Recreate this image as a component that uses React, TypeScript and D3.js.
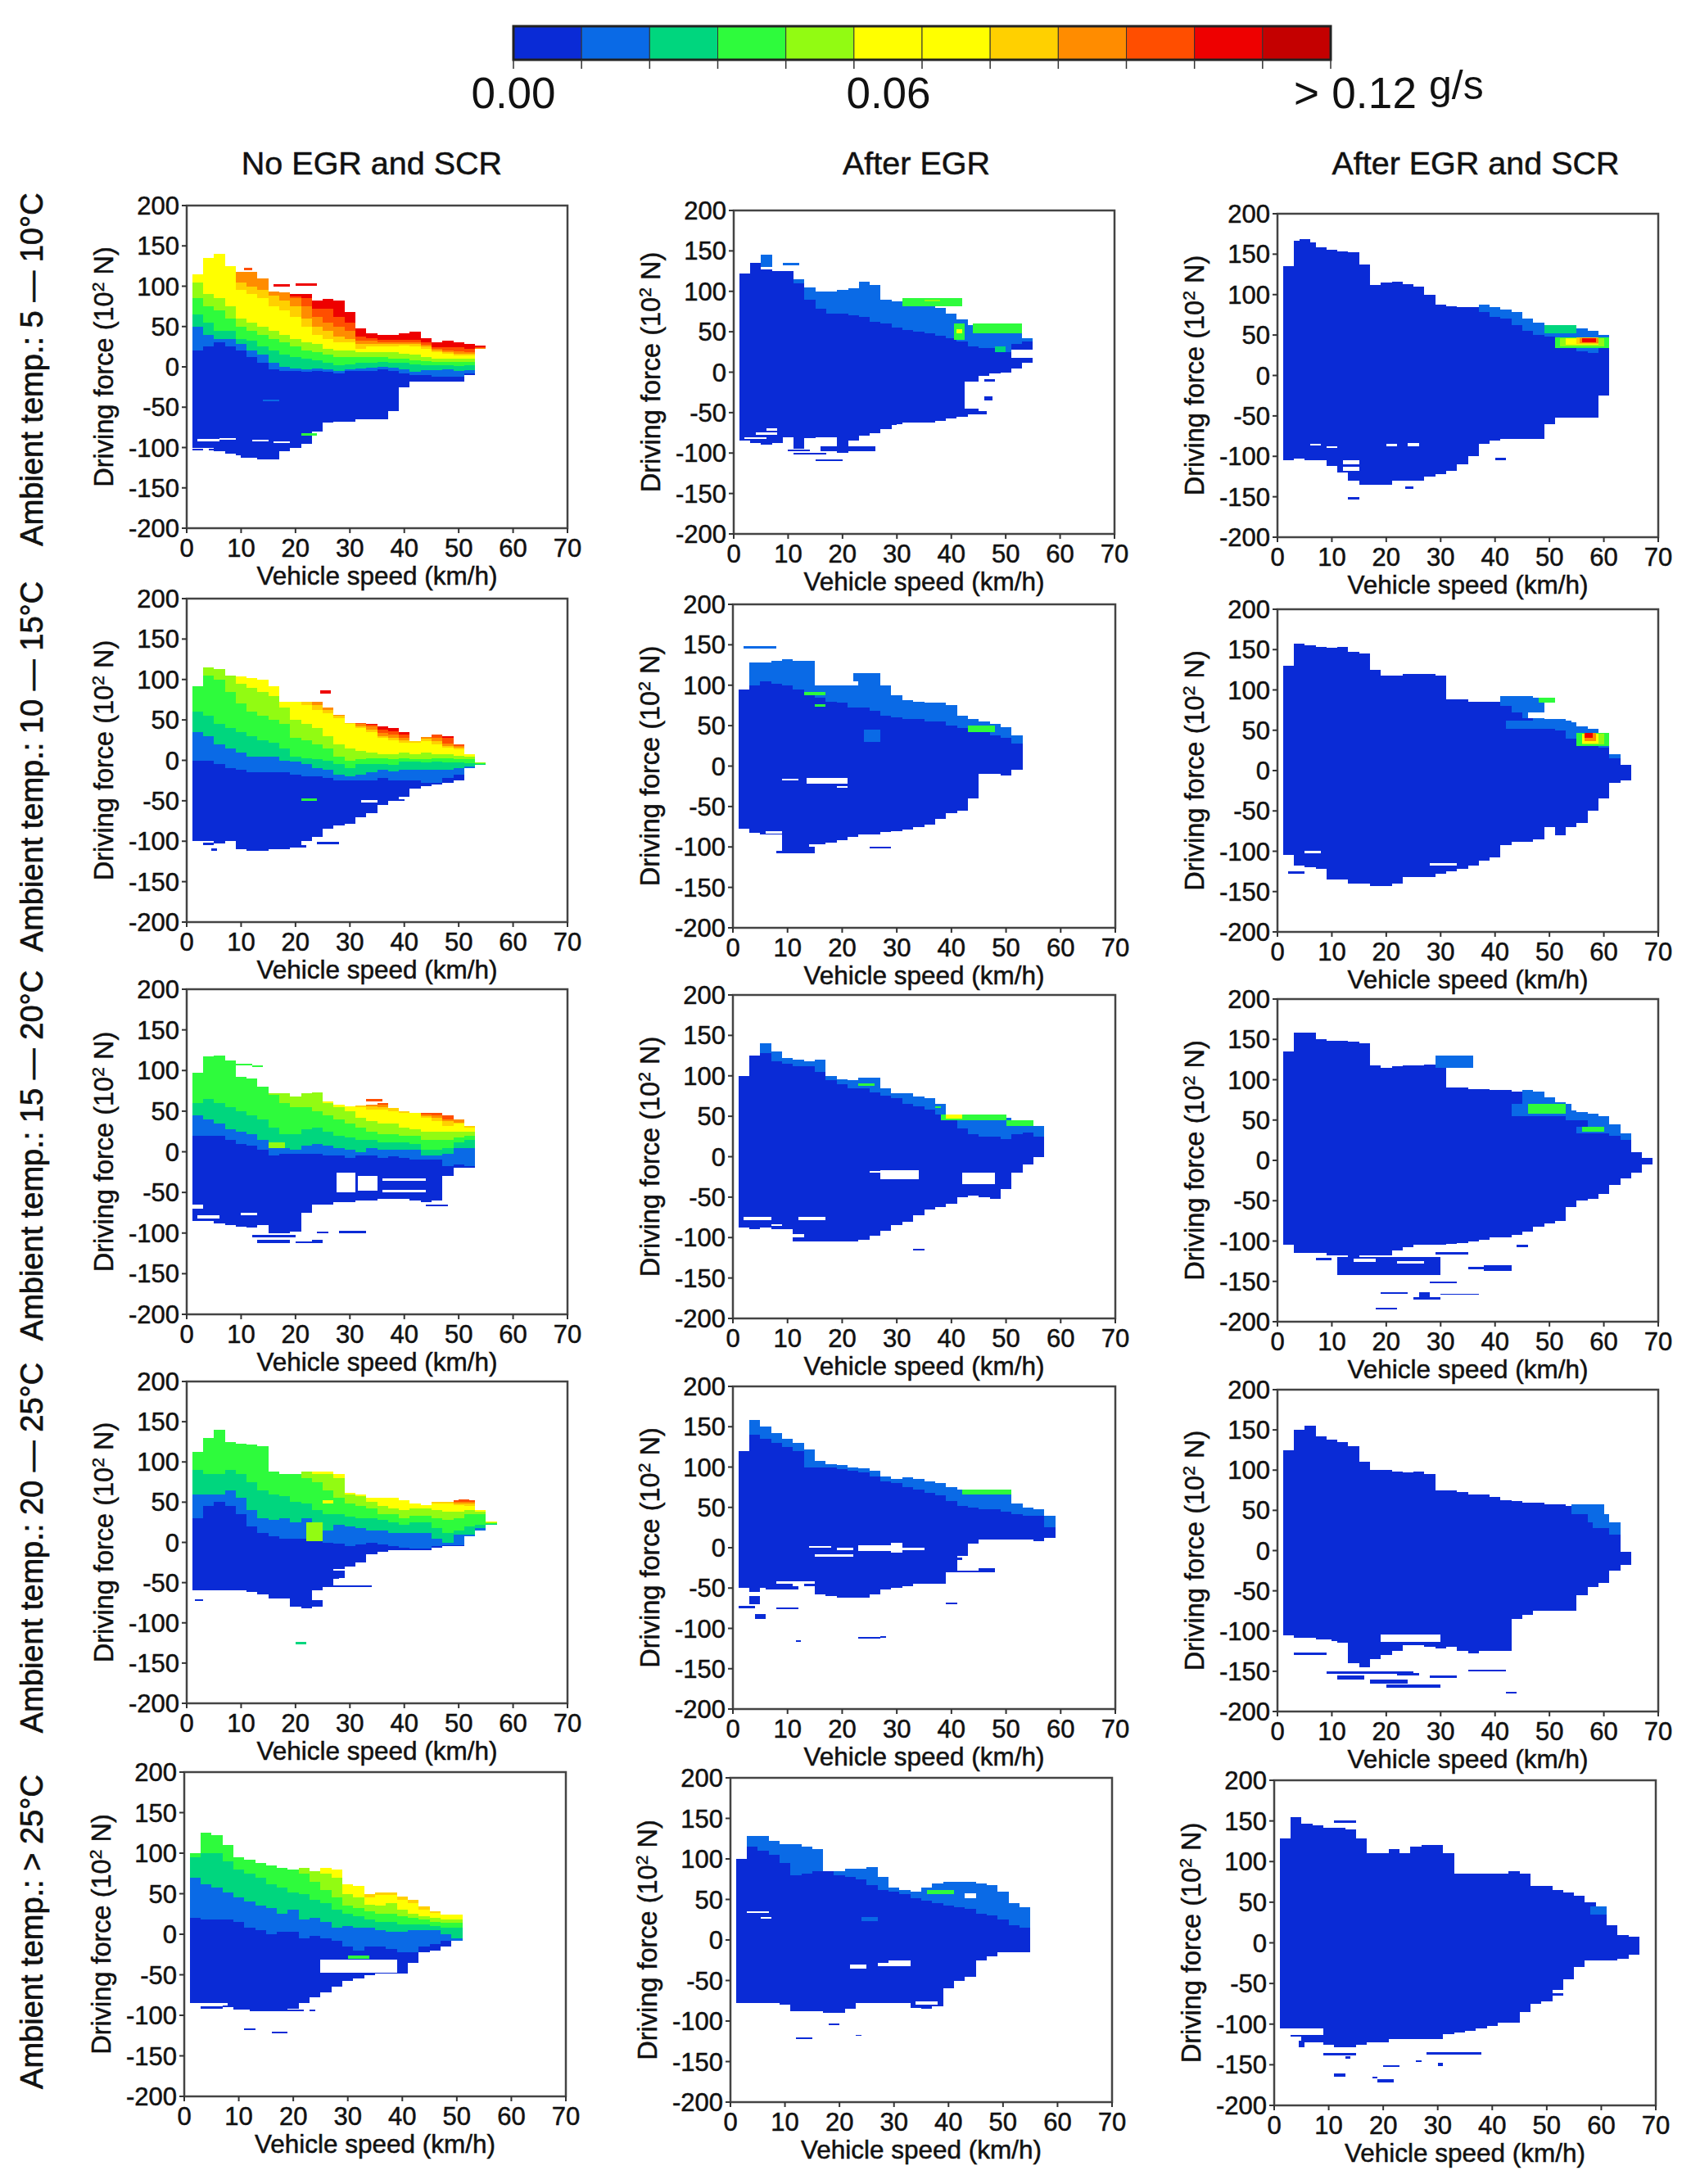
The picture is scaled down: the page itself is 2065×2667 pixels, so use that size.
import React from "react";
import * as d3 from "d3";

const FONT = "'Liberation Sans', Arial, sans-serif";
const legendColors = ["#0a2bd6","#0a6ae6","#00d67e","#2efb3c","#92fb12","#ffff00","#ffff00","#ffd000","#ff8c00","#ff4e00","#ee0000","#c40000"];
const levelColors = ["#0a2bd6","#0a6ae6","#00d67e","#2efb3c","#92fb12","#ffff00","#ffd000","#ff8c00","#ff4e00","#ee0000","#c40000"];
const speedTicks = [0,10,20,30,40,50,60,70];
const forceTicks = [200,150,100,50,0,-50,-100,-150,-200];
const columnTitles = ["No EGR and SCR","After EGR","After EGR and SCR"];
const rowTitles = ["Ambient temp.: 5 \u2014 10\u00b0C","Ambient temp.: 10 \u2014 15\u00b0C","Ambient temp.: 15 \u2014 20\u00b0C","Ambient temp.: 20 \u2014 25\u00b0C","Ambient temp.: > 25\u00b0C"];
const speedBinWidth = 2;
const firstSpeedBin = 1;

// Each entry is one speed bin: [lowest force, top of level 0, top of level 1, ...]
const r1c1 = [[-100,20,50,65,85,105,115],[-100,25,40,55,75,90,135],[-105,30,35,45,70,85,140],[-105,25,35,45,60,75,125],[-110,20,28,35,50,60,95,105,118],[-112,12,20,32,45,55,90,100,118],[-115,5,15,25,40,50,85,95,110],[-115,-3,5,20,35,45,75,88,93],[-105,-5,0,15,30,40,70,82,92],[-100,-5,-2,12,25,35,62,75,85,87,90],[-95,-6,-3,10,20,30,50,60,75,85,90],[-80,-5,-2,8,18,28,40,50,62,72,82],[-70,-6,-3,5,15,22,35,45,55,72,84],[-68,-8,-5,2,12,20,30,38,50,62,82],[-68,-5,-3,3,12,20,30,35,45,55,68],[-65,-5,-2,5,12,18,22,28,32,38,48],[-65,-5,-1,5,12,18,25,28,32,36,42],[-65,-3,0,6,12,18,25,28,30,33,40],[-55,-5,-1,5,10,18,25,28,30,33,40],[-25,-8,-3,5,10,16,26,28,30,33,42],[-18,-10,-6,3,8,15,25,28,30,33,44],[-18,-10,-4,2,7,12,22,25,27,30,36],[-18,-12,-4,2,6,10,18,20,22,24,30],[-18,-12,-3,2,6,10,16,18,20,24,32],[-18,-12,-5,1,6,10,14,16,19,24,30],[-10,-8,-4,2,6,10,14,16,18,22,28],[22,22,22,22,22,22,22,22,23,24,26]];
const r1c1Patches = [[2,6,-92,-89,-1],[6,9,-90,-88,-1],[12,15,-92,-90,-1],[16,19,-94,-92,-1],[1,3,-104,-102,0],[4,6,-104,-102,0],[7,14,-108,-104,0],[10,16,-113,-110,0],[21,24,-85,-82,3],[25,28,-72,-69,-1],[14,17,-43,-41,1],[20,24,101,104,9],[16,19,100,103,9],[10.5,12,120,123,8]];
const r2c1 = [[-100,0,35,60,92],[-100,0,30,55,105,115],[-103,-5,20,45,100,113],[-100,-10,15,40,85,105],[-110,-12,10,35,70,95,104],[-112,-15,5,30,60,90,102],[-112,-15,5,25,55,85,100],[-110,-15,5,22,50,80,92],[-110,-15,0,15,45,65,72],[-105,-18,-2,5,28,50,72],[-100,-20,-5,3,25,45,68,72],[-95,-20,-10,2,20,40,62,68,72],[-85,-22,-12,0,15,30,58,62,65],[-80,-25,-18,-5,5,20,52,55,56],[-78,-25,-20,-10,0,15,45,46,46],[-70,-25,-18,-5,2,12,40,42,45,46],[-65,-25,-15,-5,3,10,35,38,42,44,45],[-55,-22,-12,-5,3,8,28,30,34,38,42],[-50,-25,-14,-6,2,8,25,28,32,36,40],[-45,-25,-12,-2,3,10,22,25,28,32,35],[-35,-25,-12,-2,2,8,22,24,24,24,24],[-32,-28,-12,-3,2,10,24,27,29,29,29],[-30,-28,-12,-2,3,8,20,24,28,32,32],[-28,-22,-12,-3,3,8,16,18,21,28,30],[-25,-18,-10,-3,2,6,14,16,18,20,20],[-10,-10,-8,-4,2,5,8],[-6,-6,-6,-5,-4,-3,-3]];
const r2c1Patches = [[24.5,26.5,83,87,9],[3,5,-105,-102,0],[4.5,5.5,-112,-109,0],[19,22,-108,-105,0],[24,28,-104,-101,0],[21,24,-50,-47,3],[32,35,-52,-49,-1],[36,40,-50,-48,0]];
const r3c1 = [[-85,20,45,60,97],[-85,20,40,65,117],[-88,20,35,60,118],[-90,15,28,55,112],[-92,10,25,50,92],[-93,8,22,45,90],[-90,3,15,40,80],[-100,-5,5,30,70,72],[-100,-3,5,22,60,72],[-98,-3,3,22,55,68],[-75,-3,8,28,55,72],[-65,-3,10,30,50,73],[-65,-5,8,25,45,60,62],[-62,-5,5,20,40,55,58],[-62,-8,3,18,35,50,56],[-60,-5,0,15,30,42,55,57],[-60,-5,5,15,25,38,52,56,58],[-58,-8,3,12,22,35,52,55,58,60],[-58,-6,3,12,22,35,50,54,54],[-58,-8,3,12,20,30,48,50],[-60,-10,3,10,20,28,48,48,48],[-62,-10,-5,3,15,25,42,44,46,47],[-60,-10,-5,3,15,25,38,42,45,47],[-30,-18,-3,5,15,25,32,38,40,45],[-20,-16,5,12,18,25,35,36,40],[-20,-18,5,15,20,25,30,32]];
const r3c1Patches = [[27.5,31,-50,-26,-1],[31.5,35,-48,-30,-1],[36,44,-36,-33,-1],[36,44,-50,-47,-1],[1,3,-70,-65,-1],[8,12,106,108,3],[12,14,104,106,3],[12,20,-105,-102,0],[13,19,-112,-108,0],[20,23,-112,-110,0],[24,26,-100,-98,0],[28,33,-100,-97,0],[23,25,-112,-108,0],[44,48,-67,-65,0],[2,6,-82,-78,-1],[10,13,-78,-75,-1],[33,36,62,65,8],[43,47,46,48,8],[15,18,5,12,4]];
const r4c1 = [[-60,30,60,90,112],[-60,45,60,85,130],[-60,50,60,85,140],[-60,45,65,90,125],[-60,35,55,85,123],[-62,20,40,75,122],[-65,12,30,65,120],[-70,8,28,60,88],[-70,5,30,58,85],[-75,5,25,50,85],[-82,5,30,48,80,88],[-60,5,5,40,75,85,88],[-55,0,15,35,65,85,88],[-45,-2,22,35,55,80,85],[-30,-5,20,32,48,60,62],[-25,-3,18,30,45,58,60],[-15,0,15,30,42,50,55],[-12,-3,15,28,35,45,55],[-10,-5,12,25,35,42,55],[-10,-7,12,22,30,40,52],[-10,-8,12,25,33,42,48],[-10,-8,12,25,33,42,46],[-7,-5,5,18,30,40,48,50],[-5,-4,0,12,28,38,48,50,50],[-5,-4,10,15,30,38,46,48,50,52],[8,8,10,20,35,40,45,48,50,52],[15,15,18,22,35,38,40],[22,22,22,23,24,25,26]];
const r4c1Patches = [[19,25,-80,-72,0],[26,34,-55,-53,0],[1.5,3,-73,-71,0],[20,22,-127,-124,2],[22,25,2,25,4],[25,27,48,52,5],[50,52,50,53,8],[27,31,-35,-33,-1],[28,31,-47,-44,-1]];
const r5c1 = [[-85,20,70,95,100],[-85,18,62,100,125],[-87,18,58,100,122],[-90,18,52,90,110],[-93,15,45,80,95],[-93,8,40,75,92],[-95,5,35,70,88],[-95,0,32,62,85],[-95,3,25,58,82],[-92,3,30,52,80],[-85,-5,18,50,75,82],[-78,-2,20,42,65,78],[-72,-5,15,38,55,75,82],[-65,-8,8,30,45,70,80],[-58,-15,10,25,35,50,62],[-55,-20,8,22,32,45,60],[-50,-15,8,18,28,36,45,50],[-48,-15,5,15,25,35,48,52],[-48,-18,3,15,25,38,48,52],[-48,-22,3,12,22,30,42,46],[-35,-22,5,12,20,25,38,42],[-22,-15,5,12,18,22,30,34],[-20,-12,5,10,15,20,26,28],[-15,-8,0,8,14,18,24],[-8,-8,-5,8,14,18,24]];
const r5c1Patches = [[25,39,-47,-31,-1],[11,13,-118,-116,0],[16,19,-122,-120,0],[12,17,-95,-93,0],[2,8,-88,-85,-1],[3,7,-92,-89,0],[19,22,-95,-93,0],[23,24,-95,-93,0],[30,34,-30,-26,3]];
const r1c2 = [[-85,122],[-88,135],[-90,130,145],[-88,125],[-80,125],[-95,110,115],[-82,90,105],[-80,78,100],[-80,72,100],[-100,72,102],[-85,70,104],[-78,68,112],[-75,62,108],[-70,60,90],[-65,55,88],[-62,52,85],[-62,50,82],[-62,48,82],[-60,45,80],[-57,42,72],[-55,38,65],[-52,32,58],[-5,30,55],[-2,30,50],[0,25,50],[5,35,48],[12,38,42]];
const r1c2Patches = [[31,42,82,92,3],[35,38,88,90,4],[40.5,42.5,40,60,3],[41,42,48,53,5],[44,53,48,60,3],[51,55,18,28,-1],[42.5,46,-45,-12,-1],[42,46.5,-52,-48,0],[46,48,-12,-9,0],[46,47.5,-35,-30,0],[10,14,-98,-96,0],[16,26,-98,-92,0],[11,17,-102,-100,0],[15,20,-110,-108,0],[4,8,-77,-74,-1],[2,6,-83,-81,-1],[6,8,-72,-69,-1],[30,37,-68,-64,-1],[5,8,127,130,-1],[9,12,132,135,1],[48,50,25,32,2]];
const r2c2 = [[-77,95],[-83,100,128],[-85,105,130],[-85,102,130],[-105,100,132],[-108,95,130],[-105,90,130],[-100,85,100],[-95,80,100],[-92,78,100],[-88,72,100],[-85,72,105],[-85,68,110],[-82,62,100],[-80,60,88],[-78,58,82],[-75,58,80],[-72,55,78],[-65,55,78],[-58,50,75],[-55,47,62],[-40,42,58],[-10,42,55],[-10,38,52],[-12,35,48],[-5,28,38]];
const r2c2Patches = [[9,12,-18,-16,-1],[13.5,21,-22,-15,-1],[19,21,-27,-25,-1],[43,48,42,50,3],[13,17,88,92,3],[15,17,73,76,3],[24,27,30,45,1],[2,8,145,148,1],[2,7,128,132,-1],[25,29,-102,-100,0],[8,15,-108,-105,0],[14,20,-100,-97,-1],[6,9,-84,-80,-1],[30,35,-90,-86,-1],[22,27,105,115,1]];
const r3c2 = [[-88,100],[-90,125],[-88,128,140],[-90,118,130],[-90,115,122],[-105,112,120],[-105,112,118],[-105,105,120],[-105,95,100],[-105,90,96],[-105,85,95],[-103,85,98],[-98,80,98],[-92,75,85],[-85,72,78],[-80,65,78],[-72,62,74],[-65,58,72],[-62,52,65],[-58,45,52],[-50,35,50],[-48,28,48],[-50,25,48],[-52,25,48],[-40,22,48],[-20,28,42],[-10,30,42],[0,25,38]];
const r3c2Patches = [[27,34,-28,-17,-1],[25,27,-20,-18,-1],[42,48,-34,-20,-1],[38,50,45,52,3],[39,42,47,52,5],[50,55,38,45,3],[33,35,-116,-114,0],[8,13,-100,-96,-1],[2,7,-78,-74,-1],[12,17,-78,-74,-1],[7,9,-86,-84,-1],[23,26,88,91,3],[37,38,60,62,3]];
const r4c2 = [[-50,120],[-55,140,158],[-50,135,150],[-52,130,142],[-48,125,135],[-45,120,130],[-48,100,122],[-58,100,108],[-60,100,104],[-62,97,103],[-62,95,100],[-62,93,98],[-58,88,95],[-52,82,88],[-50,80,85],[-48,75,87],[-45,72,85],[-45,68,82],[-45,65,80],[-30,58,75],[-10,52,72],[5,50,72],[10,48,72],[10,48,72],[10,45,70],[10,42,55],[10,40,50],[8,40,48],[12,25,40]];
const r4c2Patches = [[42,51,66,72,3],[14,18,0,2,-1],[19,22,-3,0,-1],[23,29,-4,3,-1],[29,31,-6,6,-1],[31,35,-3,0,-1],[15,22,-11,-8,-1],[3,5,-70,-60,0],[1,4,-75,-72,0],[4,6,-88,-82,0],[8,12,-76,-74,0],[23,27,-113,-111,0],[27,28,-112,-110,0],[11.5,12.5,-117,-115,0],[39,41,-70,-68,0],[41,45,-30,-28,0],[38,42,-15,-12,0],[45,48,-30,-25,0],[8,15,-45,-42,-1],[6,12,-52,-48,0]];
const r5c2 = [[-80,100],[-82,115,128],[-80,110,128],[-78,105,122],[-80,95,118],[-88,80,118],[-88,82,115],[-88,85,112],[-90,85,85],[-90,80,85],[-85,78,88],[-78,75,88],[-78,68,90],[-78,62,78],[-78,60,65],[-78,57,62],[-88,52,60],[-85,48,65],[-82,45,70],[-60,42,72],[-50,40,72],[-45,38,72],[-25,32,70],[-20,30,68],[-15,25,60],[-15,18,45],[-15,15,40]];
const r5c2Patches = [[3,7,33,35,-1],[5.5,7.5,26,28,-1],[22,25,-35,-30,-1],[27,30,-32,-28,-1],[29,33,-32,-25,-1],[1,9,-83,-78,-1],[36,41,57,62,3],[43,45,52,58,-1],[24,27,23,28,1],[18,20,-105,-103,0],[12,15,-122,-120,0],[23,24,-118,-117,0],[31,35,-88,-84,-1],[34,38,-80,-76,-1]];
const r1c3 = [[-105,135],[-103,167],[-105,165],[-105,158],[-112,155],[-120,153],[-130,152],[-135,137],[-135,112],[-135,115],[-130,116],[-130,113],[-130,110],[-125,100],[-122,88],[-118,86],[-110,85],[-100,85],[-85,78,88],[-80,72,85],[-78,70,82],[-78,62,78],[-78,55,70],[-78,50,65],[-60,48,60],[-52,46,62],[-52,44,62],[-52,30,58],[-52,28,55],[-25,38,50]];
const r1c3Patches = [[49,55,52,62,2],[51,61,34,47,3],[52,60,36,46,4],[53,59,38,46,5],[55,59,39,47,6],[55.5,59,40,46,7],[56,58.5,41,46,9],[13,15,-153,-150,0],[20,22,-88,-85,-1],[24,26,-88,-84,-1],[6,8,-87,-85,-1],[9,11,-90,-88,-1],[12,15,-118,-113,-1],[12,15,-110,-105,-1],[40,42,-105,-102,0],[23.5,25,-140,-137,0],[4,6,165,169,0]];
const r2c3 = [[-105,130],[-118,157],[-120,155],[-122,153],[-135,152],[-135,153],[-140,147],[-140,145],[-143,125],[-143,118],[-140,118],[-132,120],[-132,120],[-132,120],[-128,118],[-125,88],[-122,88],[-118,85],[-112,85],[-108,85],[-92,80,92],[-88,72,92],[-88,65,92],[-85,62,90],[-70,60,64],[-80,50,64],[-70,40,60],[-65,35,55],[-50,35,52],[-35,28,42],[-15,15,20],[-12,7]];
const r2c3Patches = [[46,50,65,72,-1],[48,51,84,90,3],[42,54,52,62,1],[55,61,30,47,3],[56,60,32,46,4],[56,59,34,46,5],[56.5,58.5,37,47,7],[56.5,58,41,47,9],[2,5,-128,-125,0],[5,8,-103,-99,-1],[28,33,-118,-115,-1]];
const r3c3 = [[-105,135],[-115,158],[-115,158],[-115,150],[-118,148],[-118,148],[-120,147],[-118,145],[-118,118],[-118,115],[-112,117],[-108,118],[-105,118],[-105,119],[-105,118],[-104,90],[-103,90],[-100,88],[-98,88],[-95,87],[-95,87],[-92,85],[-88,65,87],[-82,60,85],[-78,60,78],[-75,55,72],[-58,50,62],[-50,50,60],[-48,40,58],[-42,38,55],[-30,30,45],[-22,25,33],[-15,10],[-5,3]];
const r3c3Patches = [[29,36,115,130,1],[43,54,55,70,1],[46,53,58,70,3],[55,61,33,42,1],[56,60,36,42,3],[11,30,-142,-120,0],[14,18,-126,-122,-1],[22,27,-128,-125,-1],[28,33,-152,-150,0],[35,42,-135,-132,0],[38,43,-137,-130,0],[19,24,-165,-163,0],[26,28,-170,-163,0],[18,22,-185,-183,0],[25,30,-173,-170,0],[30,37,-167,-165,0],[29,35,-117,-114,0],[44,46,-108,-105,0],[7,10,-124,-121,0]];
const r4c3 = [[-105,125],[-108,150],[-108,155],[-110,142],[-112,138],[-115,135],[-140,130],[-145,110],[-135,100],[-130,100],[-125,98],[-118,97],[-118,98],[-120,95],[-122,75],[-120,75],[-125,73],[-128,70],[-125,70],[-125,67],[-125,63],[-85,62],[-80,60],[-75,60],[-75,58],[-75,57],[-75,55],[-55,50,55],[-45,35,50],[-40,30,45],[-25,20,35],[-18,-2]];
const r4c3Patches = [[54,60,45,57,1],[58,61,28,42,1],[19,30,-113,-104,-1],[2,10,-114,-110,-1],[6,10,-122,-118,-1],[3,9,-130,-127,0],[9,25,-153,-150,0],[11,16,-160,-155,0],[17,24,-165,-160,0],[22,26,-155,-152,0],[28,33,-158,-155,0],[35,42,-150,-148,0],[42,44,-178,-176,0],[20,30,-170,-166,0]];
const r5c3 = [[-105,128],[-115,155],[-122,147],[-122,145],[-125,142],[-128,142],[-128,140],[-125,128],[-122,110],[-122,110],[-118,115],[-118,110],[-118,118],[-118,120],[-118,120],[-112,110],[-110,85],[-108,85],[-105,85],[-102,85],[-98,85],[-98,88],[-85,85],[-75,70],[-72,70],[-65,65],[-45,62],[-30,58],[-22,50],[-22,45],[-22,22],[-20,10],[-15,8]];
const r5c3Patches = [[58,61,35,45,1],[9,15,-139,-136,0],[13,14,-143,-140,0],[20,23,-153,-151,0],[11,13,-165,-161,0],[18,19,-167,-165,0],[19,22,-172,-168,0],[28,38,-138,-135,0],[26,27,-147,-145,0],[30,31,-152,-148,0],[1,9,-113,-105,-1],[4.5,5.5,-128,-120,0],[51,54,-62,-58,-1],[11,15,148,151,0]];

const rowPanels = [
  [[r1c1,r1c1Patches],[r1c2,r1c2Patches],[r1c3,r1c3Patches]],
  [[r2c1,r2c1Patches],[r2c2,r2c2Patches],[r2c3,r2c3Patches]],
  [[r3c1,r3c1Patches],[r3c2,r3c2Patches],[r3c3,r3c3Patches]],
  [[r4c1,r4c1Patches],[r4c2,r4c2Patches],[r4c3,r4c3Patches]],
  [[r5c1,r5c1Patches],[r5c2,r5c2Patches],[r5c3,r5c3Patches]],
];

// Panel frames in page pixels: [left, right, top, bottom]
const frames = [
  [[228,693,251,645],[896,1361,257,652],[1560,2025,261,656]],
  [[228,693,731,1126],[895,1362,738,1133],[1560,2025,744,1138]],
  [[228,693,1208,1605],[895,1362,1215,1610],[1560,2025,1220,1614]],
  [[228,693,1687,2080],[895,1362,1693,2087],[1560,2025,1697,2090]],
  [[225,691,2164,2560],[892,1358,2171,2567],[1556,2022,2174,2571]],
];

const textWeight = { stroke: "#111", strokeWidth: 0.5 };

function Panel({ box, cols, patches }: any) {
  const [l, r, t, b] = box;
  const x = d3.scaleLinear().domain([0, 70]).range([l, r]);
  const y = d3.scaleLinear().domain([-200, 200]).range([b, t]);
  const cells: any[] = [];
  cols.forEach((c: number[], i: number) => {
    const s0 = firstSpeedBin + i * speedBinWidth;
    let low = c[0];
    c.slice(1).forEach((top, lvl) => {
      if (top > low) {
        cells.push(<rect key={`c${i}-${lvl}`} x={x(s0)} width={x(s0 + speedBinWidth) - x(s0)} y={y(top)} height={y(low) - y(top)} fill={levelColors[lvl]} />);
        low = top;
      }
    });
  });
  patches.forEach((p: number[], i: number) => {
    const lo = Math.min(p[2], p[3]);
    const hi = Math.max(p[2], p[3]);
    cells.push(<rect key={`p${i}`} x={x(p[0])} width={x(p[1]) - x(p[0])} y={y(hi)} height={y(lo) - y(hi)} fill={p[4] < 0 ? "#fff" : levelColors[p[4]]} />);
  });
  const midY = (t + b) / 2;
  return (
    <g fontFamily={FONT} fill="#111">
      <g shapeRendering="crispEdges">{cells}</g>
      <rect x={l} y={t} width={r - l} height={b - t} fill="none" stroke="#444" strokeWidth={2.5} />
      <g {...textWeight}>
        {speedTicks.map((v) => (
          <g key={v}>
            <line x1={x(v)} x2={x(v)} y1={b} y2={b + 6} stroke="#333" strokeWidth={2} />
            <text x={x(v)} y={b + 35} fontSize={31} textAnchor="middle">{v}</text>
          </g>
        ))}
        {forceTicks.map((v) => (
          <g key={v}>
            <line x1={l - 6} x2={l} y1={y(v)} y2={y(v)} stroke="#333" strokeWidth={2} />
            <text x={l - 9} y={y(v) + 11} fontSize={31} textAnchor="end">{v}</text>
          </g>
        ))}
        <text x={(l + r) / 2} y={b + 69} fontSize={31.5} textAnchor="middle">Vehicle speed (km/h)</text>
        <text transform={`translate(${l - 90},${midY}) rotate(-90)`} fontSize={32.5} textAnchor="middle">
          Driving force (10<tspan fontSize={21} dy={-11}>2</tspan><tspan dy={11}> N)</tspan>
        </text>
      </g>
    </g>
  );
}

function Legend() {
  const x = d3.scaleLinear().domain([0, legendColors.length]).range([627, 1625]);
  return (
    <g fontFamily={FONT} fill="#111">
      {legendColors.map((c, i) => (
        <rect key={i} x={x(i)} y={32} width={x(i + 1) - x(i)} height={41} fill={c} stroke="#333" strokeWidth={1} />
      ))}
      <rect x={627} y={32} width={998} height={41} fill="none" stroke="#222" strokeWidth={3} />
      {d3.range(legendColors.length + 1).map((i) => (
        <line key={i} x1={x(i)} x2={x(i)} y1={73} y2={84} stroke="#333" strokeWidth={1.5} />
      ))}
      <text x={627} y={132} fontSize={53} textAnchor="middle">0.00</text>
      <text x={1085} y={132} fontSize={53} textAnchor="middle">0.06</text>
      <text x={1580} y={132} fontSize={53} textLength={150}>{"> 0.12"}</text>
      <text x={1745} y={121} fontSize={50}>g/s</text>
    </g>
  );
}

const titleX = [454, 1119, 1802];
const rowLabelY = [451, 936, 1411, 1890, 2359];

export default function App() {
  return (
    <svg width={2065} height={2667} style={{ position: "absolute", left: 0, top: 0, display: "block", background: "#fff" }}>
      <Legend />
      {columnTitles.map((t, i) => (
        <text key={t} x={titleX[i]} y={213} fontFamily={FONT} fontSize={39.5} textAnchor="middle" fill="#111" {...textWeight}>{t}</text>
      ))}
      {rowTitles.map((t, i) => (
        <text key={t} transform={`translate(52,${rowLabelY[i]}) rotate(-90)`} fontFamily={FONT} fontSize={38} textAnchor="middle" fill="#111" stroke="#111" strokeWidth={0.7}>{t}</text>
      ))}
      {rowPanels.map((row, i) =>
        row.map((p, j) => <Panel key={`${i}-${j}`} box={frames[i][j]} cols={p[0]} patches={p[1]} />)
      )}
    </svg>
  );
}
